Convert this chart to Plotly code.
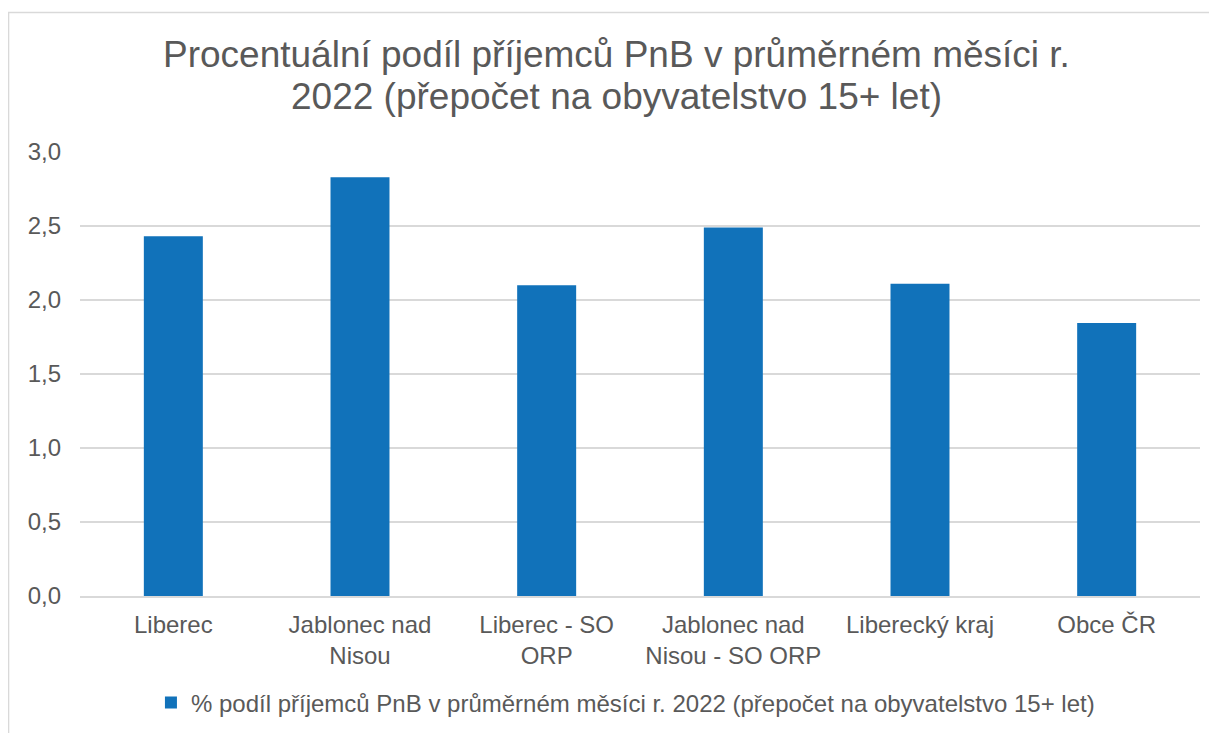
import plotly.graph_objects as go

# data
categories = [
    "Liberec",
    "Jablonec nad<br>Nisou",
    "Liberec - SO<br>ORP",
    "Jablonec nad<br>Nisou - SO ORP",
    "Liberecký kraj",
    "Obce ČR",
]
values = [2.43, 2.83, 2.10, 2.49, 2.11, 1.845]
tick_vals = [0, 0.5, 1.0, 1.5, 2.0, 2.5, 3.0]
tick_text = ["0,0", "0,5", "1,0", "1,5", "2,0", "2,5", "3,0"]
series_name = "% podíl příjemců PnB v průměrném měsíci r. 2022 (přepočet na obyvatelstvo 15+ let)"
title_lines = [
    "Procentuální podíl příjemců PnB v průměrném měsíci r.",
    "2022 (přepočet na obyvatelstvo 15+ let)",
]

FONT = "Liberation Sans, Arial, sans-serif"
TXT = "#595959"

fig = go.Figure()
fig.add_trace(go.Bar(
    x=categories,
    y=values,
    name=series_name,
    marker=dict(color="#1172BA", line=dict(width=0)),
    showlegend=True,
))

# title as two annotations so the line spacing can follow the reference
title_ann = [
    dict(text=title_lines[0], x=0.4786, y=1.2185),
    dict(text=title_lines[1], x=0.4786, y=1.124),
]
for a in title_ann:
    a.update(xref="paper", yref="paper", xanchor="center", yanchor="middle",
             showarrow=False, font=dict(size=37, color=TXT, family=FONT))

fig.update_layout(
    width=1217,
    height=733,
    paper_bgcolor="white",
    plot_bgcolor="white",
    font=dict(family=FONT, size=24, color=TXT),
    margin=dict(l=72, r=25, t=144, b=145),
    bargap=0.684,
    annotations=title_ann,
    legend=dict(
        orientation="h",
        x=0.487, xanchor="center",
        y=-0.241, yanchor="middle",
        font=dict(size=24, color=TXT),
        itemwidth=30,
    ),
    shapes=[dict(
        type="rect", xref="paper", yref="paper",
        x0=-0.0638, x1=1.2, y0=-0.6, y1=1.314,
        line=dict(color="#D9D9D9", width=1.5),
        layer="below",
    )],
)

fig.update_yaxes(
    range=[0, 3.0],
    tickvals=tick_vals,
    ticktext=tick_text,
    showgrid=True,
    gridcolor="#D9D9D9",
    gridwidth=1.5,
    zeroline=False,
    showline=False,
    ticks="",
    ticklabelstandoff=18,
)
fig.update_xaxes(
    showline=True,
    linecolor="#D9D9D9",
    linewidth=1.5,
    ticks="",
    showgrid=False,
    ticklabelstandoff=6,
)

fig.write_html("out.html")
